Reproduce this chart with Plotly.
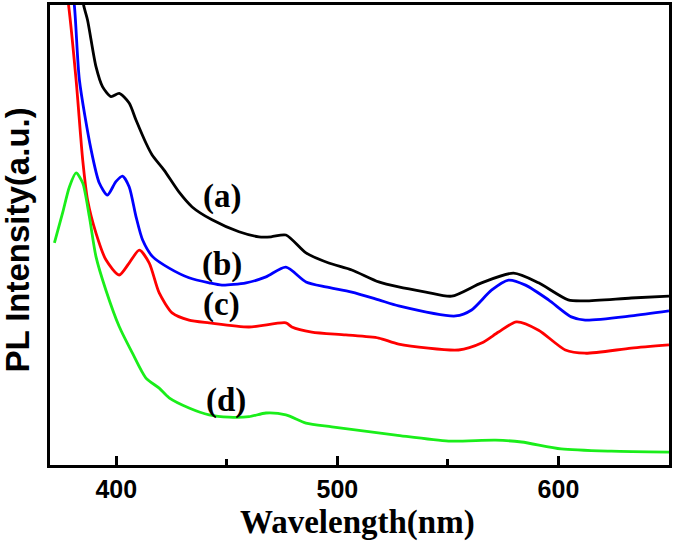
import plotly.graph_objects as go

# Wavelength (nm) and PL intensity (a.u.)
wl_a = [383, 385.2, 387.0, 390.8, 393.8, 397.6, 401.3, 405.8, 408.9, 413.4, 416.2, 421.6,
        428.4, 434.3, 443.3, 455.5, 464.5, 470, 476.7, 485.8, 496.1, 506.5, 518.7, 527.7,
        540, 551.7, 565.2, 579.7, 591.0, 604.4, 612.1, 632.9, 650]
int_a = [108, 100, 96.7, 86.6, 82.2, 80.1, 80.8, 78.7, 75.0, 70.0, 67.4, 64.1,
         59.3, 56.1, 53.3, 50.7, 49.6, 49.6, 50.0, 46.1, 43.9, 42.4, 39.8, 38.7,
         37.6, 36.7, 39.6, 41.7, 39.6, 35.9, 35.7, 36.3, 36.7]

wl_b = [378, 381.0, 383.3, 388.6, 392.3, 396.0, 399.8, 402.8, 405.8, 408.9, 411.9, 416.4,
        423.9, 432.9, 442.0, 447.8, 458.7, 467.7, 476.7, 485.8, 494.7, 506.5, 518.7, 527.7,
        553.5, 560.7, 569.7, 577.4, 585.1, 595.5, 605.8, 612.1, 632.9, 650]
int_b = [110, 100, 83.7, 68.5, 61.3, 58.7, 61.6, 62.8, 60.5, 54.0, 48.9, 45.3,
         42.8, 40.7, 39.6, 39.1, 39.6, 40.9, 43.0, 39.8, 38.7, 37.6, 35.9, 34.6,
         32.4, 33.7, 38.0, 40.2, 39.1, 35.9, 32.2, 31.5, 32.4, 33.5]

wl_c = [376, 378.4, 381.8, 384.8, 387.0, 390.8, 395.3, 401.3, 405.8, 410.4, 414.9, 419.4,
        425.4, 432.9, 442.0, 460.0, 476.7, 479.4, 488.4, 503.8, 518.7, 527.7, 554.8,
        565.2, 572.9, 581.0, 591.0, 603.1, 612.1, 632.9, 650]
int_c = [108, 100, 83.7, 66.3, 57.6, 50.4, 44.6, 41.3, 43.9, 46.7, 43.9, 37.4,
         33.0, 31.5, 30.9, 30.0, 30.9, 30.0, 28.9, 28.3, 27.6, 26.3, 25.0,
         26.5, 28.9, 31.1, 29.3, 25.0, 24.3, 25.4, 26.1]

wl_d = [372.0, 375.7, 378.8, 381.8, 384.8, 387.8, 390.8, 395.3, 401.3, 407.3, 413.4, 419.4,
        423.9, 432.9, 442.0, 451.0, 460.0, 467.7, 476.7, 485.8, 497.5, 526.4,
        550.3, 571.5, 583.3, 601.2, 623.9, 650]
int_d = [48.3, 54.8, 60.5, 63.5, 61.3, 54.0, 45.3, 38.0, 30.1, 24.3, 18.9, 16.7,
         14.6, 12.4, 10.9, 10.4, 10.5, 11.3, 10.9, 9.1, 8.3, 6.5,
         5.2, 5.4, 5.0, 3.5, 3.0, 2.8]

series_names = ["(a)", "(b)", "(c)", "(d)"]
series_colors = ["#000000", "#0000ff", "#ff0000", "#1aee1a"]
label_x = [447.8, 447.8, 447.8, 449.6]
label_y = [58.4, 43.5, 34.8, 14.1]

x_ticks = [400, 500, 600]
x_minor_ticks = [450, 550]
x_title = "Wavelength(nm)"
y_title = "PL Intensity(a.u.)"

fig = go.Figure()
for wl, iv, name, col in zip([wl_a, wl_b, wl_c, wl_d], [int_a, int_b, int_c, int_d],
                             series_names, series_colors):
    fig.add_trace(go.Scatter(x=wl, y=iv, mode="lines", name=name,
                             line=dict(color=col, width=2.8, shape="spline", smoothing=0.7),
                             showlegend=False))

for name, lx, ly in zip(series_names, label_x, label_y):
    fig.add_annotation(x=lx, y=ly, text="<b>%s</b>" % name, showarrow=False,
                       font=dict(family="Liberation Serif", size=33, color="black"))

# axis titles
fig.add_annotation(xref="paper", yref="paper", x=0.496, y=-0.124, xanchor="center",
                   yanchor="middle", showarrow=False, text="<b>%s</b>" % x_title,
                   font=dict(family="Liberation Serif", size=33, color="black"))
fig.add_annotation(xref="paper", yref="paper", x=-0.0525, y=0.489, xanchor="center",
                   yanchor="middle", showarrow=False, textangle=-90,
                   text="<b>%s</b>" % y_title,
                   font=dict(family="Liberation Sans", size=33, color="black"))

fig.update_layout(
    width=675, height=545,
    margin=dict(l=50, r=6, t=5, b=80, autoexpand=False),
    paper_bgcolor="white", plot_bgcolor="white",
    xaxis=dict(range=[370, 650], tickvals=x_ticks, ticks="inside", ticklen=9, tickwidth=2.5,
               tickcolor="black", showline=True, linewidth=3, linecolor="black", mirror=True,
               showgrid=False, zeroline=False, automargin=False,
               tickfont=dict(family="Liberation Sans", size=25, color="black", weight="bold"),
               minor=dict(tickvals=x_minor_ticks, ticks="inside", ticklen=6, tickwidth=2.5,
                          tickcolor="black", showgrid=False)),
    yaxis=dict(range=[0, 100], showticklabels=False, ticks="", showline=True, linewidth=3,
               linecolor="black", mirror=True, showgrid=False, zeroline=False,
               automargin=False),
)

fig.write_html("out.html", config={"displayModeBar": False},
               post_script="document.body.style.margin='0';"
                           "document.body.style.overflow='hidden';")
